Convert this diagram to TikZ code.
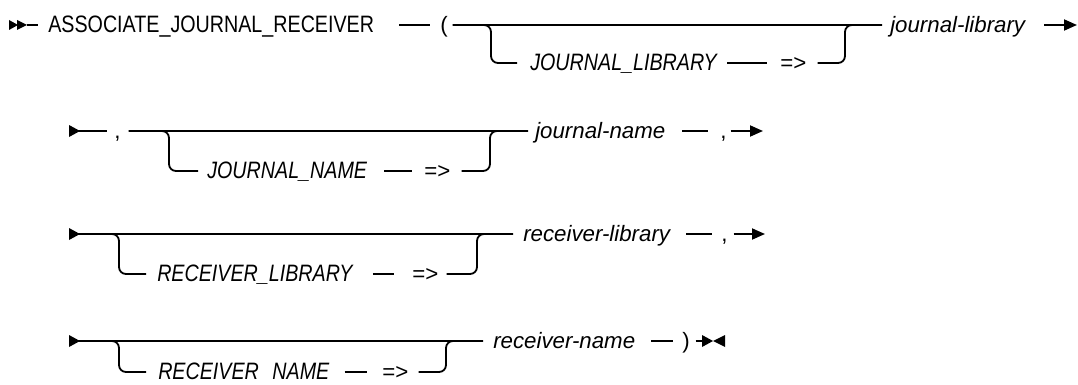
\documentclass[tikz,border=0pt]{standalone}
\usepackage{fontspec}
\setmainfont{Liberation Sans}
\newfontfamily\kwfont{Liberation Sans}[FakeStretch=0.83]
\usepackage{tikz}
\usetikzlibrary{arrows.meta}

\begin{document}
\begin{tikzpicture}[
        x=0.75pt, y=-0.75pt,
        rail/.style     = {line width=1.35pt},
        railbend/.style = {rail, rounded corners=5.25pt},
        goon/.style     = {rail, -{Triangle[length=9.75pt,width=8.25pt]}},
        kw/.style       = {anchor=west, inner sep=0pt, text height=11pt, text depth=0pt,
                           font=\kwfont\fontsize{17.8}{20}\selectfont},
        kwopt/.style    = {kw, font=\kwfont\itshape\fontsize{17.8}{20}\selectfont},
        var/.style      = {kw, font=\itshape\fontsize{16.7}{20}\selectfont},
        sym/.style      = {kw, font=\fontsize{16.7}{20}\selectfont}
    ]
        \useasboundingbox (0,0) rectangle (1078,385);
        % row 1
        \coordinate (s1) at (27,25);
        \node[kw]    (assoc)  at (48,25)  {ASSOCIATE\_JOURNAL\_RECEIVER};
        \node[sym]   (lpar)   at (440,25) {(};
        \node[kwopt] (jlibkw) at (530,63) {JOURNAL\_LIBRARY};
        \node[sym]   (jlibto) at (780,63) {=>};
        \node[var]   (jlib)   at (890,25) {journal-library};
        \coordinate (b1d) at (491,63);
        \coordinate (b1u) at (845,25);
        \coordinate (e1)  at (1077,25);
        \fill (9,20) -- (18,25) -- (9,30) -- cycle;
        \fill (17,20) -- (27,25) -- (17,30) -- cycle;
        \draw[rail, shorten >=7.5pt] (s1) -- (assoc);
        \draw[rail, shorten <=18.75pt, shorten >=7.5pt] (assoc) -- (lpar);
        \draw[rail, shorten <=3.5pt, shorten >=6pt] (lpar) -- (jlib);
        \draw[railbend, shorten <=3.5pt, shorten >=9.75pt] (lpar) -| (b1d) -- (jlibkw);
        \draw[rail, shorten <=7.5pt, shorten >=9.75pt] (jlibkw) -- (jlibto);
        \draw[railbend, shorten <=8.25pt, shorten >=6pt] (jlibto) -| (b1u) -- (jlib);
        \draw[goon, shorten <=14.25pt] (jlib) -- (e1);
        % row 2
        \coordinate (s2) at (69,131);
        \node[sym]   (comma1)  at (114,131) {,};
        \node[kwopt] (jnamekw) at (207,171) {JOURNAL\_NAME};
        \node[sym]   (jnameto) at (424,171) {=>};
        \node[var]   (jname)   at (535,131) {journal-name};
        \node[sym]   (comma2)  at (720,131) {,};
        \coordinate (b2d) at (169,171);
        \coordinate (b2u) at (490,131);
        \coordinate (e2)  at (763,131);
        \fill (69,125) -- (80,131) -- (69,137) -- cycle;
        \draw[rail, shorten >=5.25pt] (s2) -- (comma1);
        \draw[rail, shorten <=6pt, shorten >=5.25pt] (comma1) -- (jname);
        \draw[railbend, shorten <=6pt, shorten >=6.75pt] (comma1) -| (b2d) -- (jnamekw);
        \draw[rail, shorten <=12.75pt, shorten >=9pt] (jnamekw) -- (jnameto);
        \draw[railbend, shorten <=8.25pt, shorten >=5.25pt] (jnameto) -| (b2u) -- (jname);
        \draw[rail, shorten <=12.75pt, shorten >=9pt] (jname) -- (comma2);
        \draw[goon, shorten <=3pt] (comma2) -- (e2);
        % row 3
        \coordinate (s3) at (69,234);
        \node[kwopt] (rlibkw) at (157,274) {RECEIVER\_LIBRARY};
        \node[sym]   (rlibto) at (412,274) {=>};
        \node[var]   (rlib)   at (523,234) {receiver-library};
        \node[sym]   (comma3) at (721,234) {,};
        \coordinate (b3d) at (119,274);
        \coordinate (b3u) at (477,234);
        \coordinate (e3)  at (765,234);
        \fill (69,228) -- (80,234) -- (69,240) -- cycle;
        \draw[rail, shorten >=7.5pt] (s3) -- (rlib);
        \draw[railbend, shorten >=8.25pt] (s3) -| (b3d) -- (rlibkw);
        \draw[rail, shorten <=15pt, shorten >=13.5pt] (rlibkw) -- (rlibto);
        \draw[railbend, shorten <=6pt, shorten >=7.5pt] (rlibto) -| (b3u) -- (rlib);
        \draw[rail, shorten <=12pt, shorten >=6.75pt] (rlib) -- (comma3);
        \draw[goon, shorten <=4.5pt] (comma3) -- (e3);
        % row 4
        \coordinate (s4) at (69,341);
        \node[kwopt] (rnamekw) at (158,372) {RECEIVER\ \hspace{6pt}NAME};
        \node[sym]   (rnameto) at (382,372) {=>};
        \node[var]   (rname)   at (493,341) {receiver-name};
        \node[sym]   (rpar)    at (682,341) {)};
        \coordinate (b4d) at (119,372);
        \coordinate (b4u) at (446,341);
        \coordinate (e4)  at (702,341);
        \fill (69,335) -- (80,341) -- (69,347) -- cycle;
        \draw[rail, shorten >=7.5pt] (s4) -- (rname);
        \draw[railbend, shorten >=9pt] (s4) -| (b4d) -- (rnamekw);
        \draw[rail, shorten <=11.25pt, shorten >=11.25pt] (rnamekw) -- (rnameto);
        \draw[railbend, shorten <=7.5pt, shorten >=7.5pt] (rnameto) -| (b4u) -- (rname);
        \draw[rail, shorten <=12pt, shorten >=6.75pt] (rname) -- (rpar);
        \draw[rail, shorten <=4.2pt] (rpar) -- (e4);
        \fill (702,335) -- (713,341) -- (702,347) -- cycle;
        \fill (725,335) -- (713,341) -- (725,347) -- cycle;
    \end{tikzpicture}
\end{document}
